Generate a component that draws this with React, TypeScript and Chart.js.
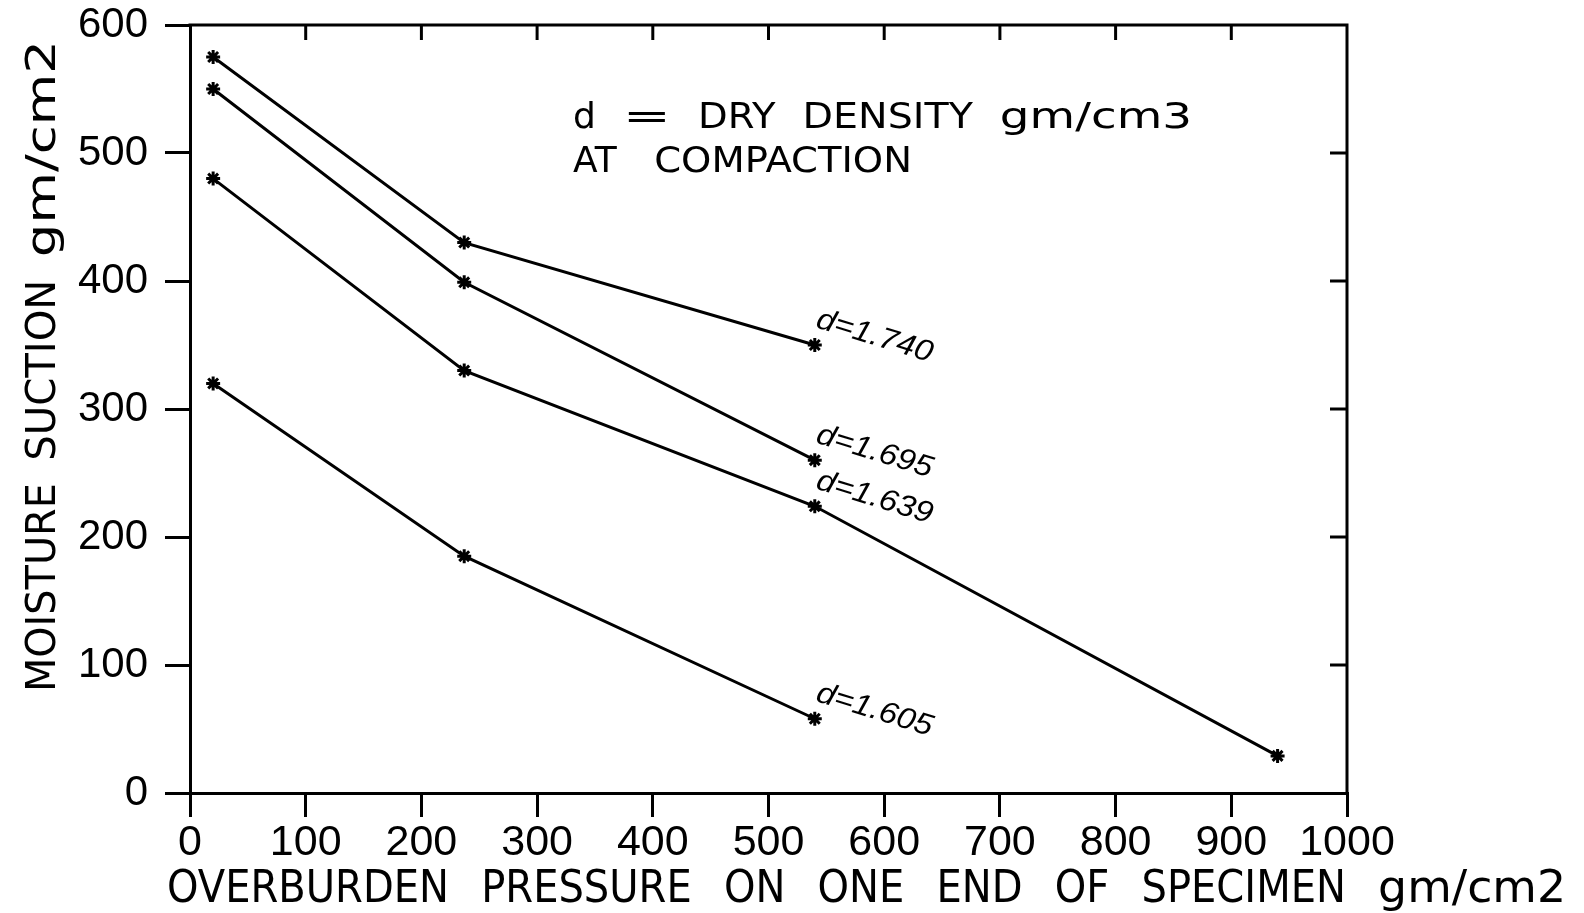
import { useEffect, useRef } from "react";
import { Chart, registerables } from "chart.js";

Chart.register(...registerables);

// Axis ticks
const pressureTicks = [0, 100, 200, 300, 400, 500, 600, 700, 800, 900, 1000];
const suctionTicks = [0, 100, 200, 300, 400, 500, 600];

// Series: overburden pressure (gm/cm2) vs moisture suction (gm/cm2)
const densityLabels = ["d=1.740", "d=1.695", "d=1.639", "d=1.605"];
const labelPointIndex = [2, 2, 2, 2];
const pressure1740 = [20, 237, 540];
const suction1740 = [575, 430, 350];
const pressure1695 = [20, 237, 540];
const suction1695 = [550, 399, 260];
const pressure1639 = [20, 237, 540, 940];
const suction1639 = [480, 330, 224, 29];
const pressure1605 = [20, 237, 540];
const suction1605 = [320, 185, 58];

const xTitle = "OVERBURDEN PRESSURE ON ONE END OF SPECIMEN gm/cm2";
const yTitle = "MOISTURE SUCTION gm/cm2";
const noteLines = ["d = DRY DENSITY gm/cm3", "AT COMPACTION"];

const TICK_FONT = "'Liberation Sans', Arial, sans-serif";
const TEXT_FONT = "'DejaVu Sans', sans-serif";
const INK = "#000";

const toPoints = (xs: number[], ys: number[]) => xs.map((x, i) => ({ x, y: ys[i] }));

// Draws words, each with its own horizontal letter scale, spread evenly over a total width
function drawWords(
  ctx: CanvasRenderingContext2D,
  text: string,
  x: number,
  y: number,
  total: number,
  scales: number[]
) {
  const words = text.split(" ");
  const sxs = words.map((_, i) => scales[Math.min(i, scales.length - 1)]);
  const widths = words.map((w, i) => ctx.measureText(w).width * sxs[i]);
  const sum = widths.reduce((a, b) => a + b, 0);
  const gap = words.length > 1 ? (total - sum) / (words.length - 1) : 0;
  let cx = x;
  words.forEach((w, i) => {
    ctx.save();
    ctx.translate(cx, y);
    ctx.scale(sxs[i], 1);
    ctx.fillText(w, 0, 0);
    ctx.restore();
    cx += widths[i] + gap;
  });
}

// Draws a single run of text stretched to a given width
function drawFitted(ctx: CanvasRenderingContext2D, text: string, total: number) {
  const w = ctx.measureText(text).width;
  ctx.save();
  ctx.scale(total / w, 1);
  ctx.fillText(text, 0, 0);
  ctx.restore();
}

const framePlugin = {
  id: "frame",
  afterDraw(chart: any) {
    const { ctx, chartArea } = chart;
    const xs = chart.scales.x;
    const ys = chart.scales.y;
    ctx.save();
    ctx.strokeStyle = INK;
    ctx.lineWidth = 3;
    ctx.lineCap = "square";
    ctx.beginPath();
    ctx.moveTo(chartArea.left, chartArea.top);
    ctx.lineTo(chartArea.right, chartArea.top);
    ctx.lineTo(chartArea.right, chartArea.bottom);
    ctx.stroke();
    // inward ticks on the top edge
    ctx.lineCap = "butt";
    xs.ticks.forEach((t: any) => {
      if (t.value <= xs.min || t.value >= xs.max) return;
      const px = xs.getPixelForValue(t.value);
      ctx.beginPath();
      ctx.moveTo(px, chartArea.top);
      ctx.lineTo(px, chartArea.top + 15);
      ctx.stroke();
    });
    // inward ticks on the right edge
    ys.ticks.forEach((t: any) => {
      if (t.value <= ys.min || t.value >= ys.max) return;
      const py = ys.getPixelForValue(t.value);
      ctx.beginPath();
      ctx.moveTo(chartArea.right, py);
      ctx.lineTo(chartArea.right - 17, py);
      ctx.stroke();
    });
    ctx.restore();
  },
};

const textPlugin = {
  id: "texts",
  afterDraw(chart: any) {
    const { ctx } = chart;
    ctx.save();
    ctx.fillStyle = INK;
    ctx.textAlign = "left";
    ctx.textBaseline = "alphabetic";

    // x axis title
    ctx.font = `44px ${TEXT_FONT}`;
    drawWords(ctx, xTitle, 167, 902, 1399, [0.91, 0.91, 0.91, 0.91, 0.91, 0.91, 0.91, 1.04]);

    // y axis title, reading upwards
    ctx.save();
    ctx.translate(55, 692);
    ctx.rotate(-Math.PI / 2);
    ctx.font = `41px ${TEXT_FONT}`;
    drawWords(ctx, yTitle, 0, 0, 652, [0.97, 0.98, 1.29]);
    ctx.restore();

    // note in the upper right
    ctx.font = `36px ${TEXT_FONT}`;
    drawWords(ctx, noteLines[0], 573, 128, 619, [1.0, 1.6, 1.07, 1.1, 1.3]);
    drawWords(ctx, noteLines[1], 573, 172, 339, [1.0, 1.07]);
    ctx.restore();
  },
};

const endLabelPlugin = {
  id: "endLabels",
  afterDatasetsDraw(chart: any) {
    const { ctx } = chart;
    ctx.save();
    ctx.fillStyle = INK;
    ctx.font = `italic 30px ${TICK_FONT}`;
    ctx.textAlign = "left";
    ctx.textBaseline = "alphabetic";
    chart.data.datasets.forEach((ds: any, i: number) => {
      const meta = chart.getDatasetMeta(i);
      const pt = meta.data[labelPointIndex[i]];
      if (!pt) return;
      ctx.save();
      ctx.translate(pt.x, pt.y - 18);
      ctx.rotate((17 * Math.PI) / 180);
      drawFitted(ctx, ds.label, 120);
      ctx.restore();
    });
    ctx.restore();
  },
};

export default function App() {
  const ref = useRef<HTMLCanvasElement | null>(null);

  useEffect(() => {
    if (!ref.current) return;
    const series = [
      toPoints(pressure1740, suction1740),
      toPoints(pressure1695, suction1695),
      toPoints(pressure1639, suction1639),
      toPoints(pressure1605, suction1605),
    ];
    const chart = new Chart(ref.current, {
      type: "line",
      data: {
        datasets: series.map((pts, i) => ({
          label: densityLabels[i],
          data: pts,
          borderColor: INK,
          backgroundColor: INK,
          borderWidth: 3,
          pointStyle: "star",
          pointRadius: 7,
          pointBorderWidth: 3,
          pointBorderColor: INK,
          fill: false,
          tension: 0,
        })),
      },
      options: {
        responsive: false,
        devicePixelRatio: 1,
        animation: false,
        layout: { padding: { top: 25, right: 237, left: 0, bottom: 0 } },
        plugins: {
          legend: { display: false },
          tooltip: { enabled: false },
          title: { display: false },
        },
        scales: {
          x: {
            type: "linear",
            position: "bottom",
            min: 0,
            max: 1000,
            afterBuildTicks: (s: any) => {
              s.ticks = pressureTicks.map((v) => ({ value: v }));
            },
            afterFit: (s: any) => {
              s.height = 120;
            },
            ticks: {
              autoSkip: false,
              maxRotation: 0,
              minRotation: 0,
              color: INK,
              padding: 0,
              font: { family: TICK_FONT, size: 43 },
              callback: (v: any) => String(v),
            },
            grid: {
              drawOnChartArea: false,
              drawTicks: true,
              tickLength: 24,
              color: INK,
              lineWidth: 3,
            },
            border: { display: true, color: INK, width: 3 },
          },
          y: {
            type: "linear",
            position: "left",
            min: 0,
            max: 600,
            afterBuildTicks: (s: any) => {
              s.ticks = suctionTicks.map((v) => ({ value: v }));
            },
            afterFit: (s: any) => {
              s.width = 190;
            },
            ticks: {
              color: INK,
              padding: 17,
              font: { family: TICK_FONT, size: 42, lineHeight: 0.35 },
              callback: (v: any) => String(v),
            },
            grid: {
              drawOnChartArea: false,
              drawTicks: true,
              tickLength: 25,
              color: INK,
              lineWidth: 3,
            },
            border: { display: true, color: INK, width: 3 },
          },
        },
      },
      plugins: [framePlugin, endLabelPlugin, textPlugin],
    });
    return () => chart.destroy();
  }, []);

  return (
    <div style={{ position: "fixed", left: 0, top: 0, width: 1584, height: 913, background: "#fff" }}>
      <canvas ref={ref} width={1584} height={913} style={{ display: "block" }} />
    </div>
  );
}
